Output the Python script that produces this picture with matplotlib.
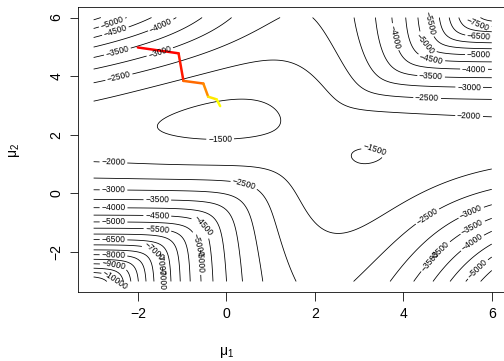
import numpy as np
import matplotlib
matplotlib.use("Agg")
import matplotlib.pyplot as plt

plt.rcParams["font.family"] = ["Liberation Sans", "DejaVu Sans"]
plt.rcParams["mathtext.fontset"] = "custom"
plt.rcParams["mathtext.rm"] = "Liberation Sans"
plt.rcParams["mathtext.it"] = "Liberation Sans"

# mixture  p N(mu1, 1) + (1 - p) N(mu2, 1), log-likelihood surface
n_obs = 790
p_mix = 0.25
mu_true = [0.0, 2.5]

mu1_lim = [-3, 6]
mu2_lim = [-3, 6]
levels = np.arange(-12000, -999, 500)

# optimisation path drawn on top
path_mu1 = [-2.0, -1.08, -0.97, -0.52, -0.41, -0.22, -0.14]
path_mu2 = [4.98, 4.78, 3.84, 3.75, 3.30, 3.21, 2.98]
path_cols = ["#FF0000", "#FF1800", "#FF6A00", "#FF8A00", "#FFE600", "#FFFF00"]

# where the contour labels sit
label_pos = [
    (-2.55, 5.68), (-1.43, 5.57), (-2.48, 5.40), (-2.46, 4.82), (-1.54, 5.0),
    (-2.46, 4.17), (-0.14, 1.85),
    (4.63, 5.81), (5.71, 5.88), (3.68, 5.30), (4.59, 5.20), (5.71, 5.37),
    (5.71, 4.79), (4.63, 4.55), (5.60, 4.27), (4.63, 4.04), (5.49, 3.70),
    (4.54, 3.28), (5.49, 2.73), (3.39, 1.72),
    (-2.55, 1.17), (0.42, 0.42), (-2.55, 0.15), (-1.56, -0.19), (-2.55, -0.43),
    (-1.56, -0.71), (-2.55, -0.95), (-0.59, -1.18), (-1.56, -1.29), (-2.55, -1.53),
    (-0.64, -1.76), (-1.56, -1.87), (-2.55, -2.04), (-0.64, -2.31), (-1.56, -2.35),
    (-2.55, -2.48), (-1.43, -2.89), (-2.55, -2.99),
    (4.63, -0.98), (5.56, -0.74), (4.70, -1.77), (5.60, -1.25), (4.74, -2.21),
    (5.60, -1.77), (5.60, -2.45),
]


def loglik_surface(m1, m2):
    # expected log-likelihood of n_obs draws from the true mixture
    xs = np.linspace(-8, 11, 500)
    dx = xs[1] - xs[0]
    c = -0.5 * np.log(2 * np.pi)
    f0 = p_mix * np.exp(c - 0.5 * (xs - mu_true[0]) ** 2) \
        + (1 - p_mix) * np.exp(c - 0.5 * (xs - mu_true[1]) ** 2)
    w = f0 * dx
    Z = np.empty((len(m2), len(m1)))
    for i, b in enumerate(m2):
        l1 = np.log(p_mix) + c - 0.5 * (xs[None, :] - m1[:, None]) ** 2
        l2 = np.log(1 - p_mix) + c - 0.5 * (xs[None, :] - b) ** 2
        Z[i] = n_obs * (np.logaddexp(l1, l2) @ w)
    return Z


m1 = np.linspace(mu1_lim[0], mu1_lim[1], 181)
m2 = np.linspace(mu2_lim[0], mu2_lim[1], 181)
Z = loglik_surface(m1, m2)

fig = plt.figure(figsize=(7, 361 / 72), dpi=72)
ax = fig.add_axes([77.7 / 504, 69 / 361, 430 / 504, 285 / 361])

cs = ax.contour(m1, m2, Z, levels=levels, colors="black", linewidths=0.8,
                linestyles="solid")
ax.clabel(cs, fmt=lambda v: ("%d" % v).replace("-", "\u2212"), fontsize=8.5,
          inline=True, inline_spacing=3, manual=label_pos)

for k in range(len(path_cols)):
    ax.plot(path_mu1[k:k + 2], path_mu2[k:k + 2], color=path_cols[k],
            lw=2.5, solid_capstyle="round")

pad1 = 0.04 * (mu1_lim[1] - mu1_lim[0])
pad2 = 0.04 * (mu2_lim[1] - mu2_lim[0])
ax.set_xlim(mu1_lim[0] - pad1, mu1_lim[1] + pad1)
ax.set_ylim(mu2_lim[0] - pad2, mu2_lim[1] + pad2)
ax.set_xticks([-2, 0, 2, 4, 6])
ax.set_yticks([-2, 0, 2, 4, 6])
ax.tick_params(direction="out", length=8.5, width=0.8, labelsize=14, pad=6)
for lab in ax.get_yticklabels():
    lab.set_rotation(90)
    lab.set_va("center")
for s in ax.spines.values():
    s.set_linewidth(0.8)

fig.text(226.3 / 504, 1 - 352 / 361, r"$\mathrm{\mu_1}$", ha="center", va="center", fontsize=14)
fig.text(14 / 504, 1 - 150 / 361, r"$\mathrm{\mu_2}$", ha="center", va="center",
         fontsize=14, rotation=90)

fig.savefig("out.png", dpi=72)
